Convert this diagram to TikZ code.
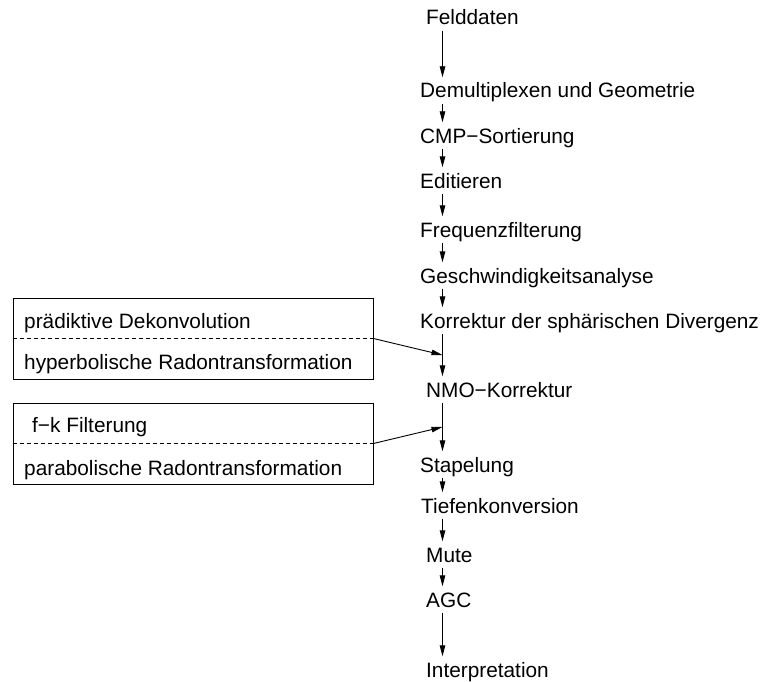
\documentclass[tikz,border=0pt]{standalone}
\usepackage{fontspec}
\setmainfont{Liberation Sans}
\usetikzlibrary{arrows.meta}

\begin{document}
\begin{tikzpicture}[x=1pt, y=-1pt,
    stage/.style={anchor=base west, inner xsep=0pt, inner ysep=5.5pt,
      text height=15pt, text depth=0pt, font=\fontsize{20.8}{25}\selectfont},
    flow/.style={line width=0.9pt, -{Stealth[length=11pt, width=5.5pt, inset=0pt]}},
    sidebox/.style={draw, line width=0.8pt, minimum width=360pt,
      minimum height=81pt, inner sep=0pt},
    split/.style={line width=0.7pt, dash pattern=on 4pt off 3pt}]
    \useasboundingbox (0,0) rectangle (760,682);
    \coordinate (ax) at (442.5,0);

    % processing chain
    \node[stage] (feld) at (426,25) {Felddaten};
    \node[stage] (demux) at (420,98) {Demultiplexen und Geometrie};
    \node[stage] (cmp) at (420,143) {CMP−Sortierung};
    \node[stage] (edit) at (420,188) {Editieren};
    \node[stage] (freq) at (420,237) {Frequenzfilterung};
    \node[stage] (velo) at (420,283) {Geschwindigkeitsanalyse};
    \node[stage] (sphdiv) at (420,328) {Korrektur der sphärischen Divergenz};
    \node[stage] (nmo) at (426,397) {NMO−Korrektur};
    \node[stage] (stack) at (420,472) {Stapelung};
    \node[stage] (depth) at (421,513) {Tiefenkonversion};
    \node[stage] (mute) at (426,562) {Mute};
    \node[stage] (agc) at (426,607) {AGC};
    \node[stage] (interp) at (426,677) {Interpretation};

    \draw[flow] (feld.south -| ax) -- (demux.north -| ax);
    \draw[flow] (demux.south -| ax) -- (cmp.north -| ax);
    \draw[flow] (cmp.south -| ax) -- (edit.north -| ax);
    \draw[flow] (edit.south -| ax) -- (freq.north -| ax);
    \draw[flow] (freq.south -| ax) -- (velo.north -| ax);
    \draw[flow] (velo.south -| ax) -- (sphdiv.north -| ax);
    \draw[flow] (sphdiv.south -| ax) -- (nmo.north -| ax);
    \draw[flow] (nmo.south -| ax) -- (stack.north -| ax);
    \draw[flow] (stack.south -| ax) -- (depth.north -| ax);
    \draw[flow] (depth.south -| ax) -- (mute.north -| ax);
    \draw[flow] (mute.south -| ax) -- (agc.north -| ax);
    \draw[flow] (agc.south -| ax) -- (interp.north -| ax);

    % optional steps before NMO
    \node[sidebox] (preNMO) at (193,338.5) {};
    \draw[split] (preNMO.west) -- (preNMO.east);
    \node[stage] (deconv) at (24,328) {prädiktive Dekonvolution};
    \node[stage] (hypradon) at (24,369) {hyperbolische Radontransformation};
    \coordinate (inNMO) at (442.5,355);
    \draw[flow] (preNMO.east) -- (inNMO);

    % optional steps before stacking
    \node[sidebox] (preStack) at (193,443.5) {};
    \draw[split] (preStack.west) -- (preStack.east);
    \node[stage] (fk) at (32,432) {f−k Filterung};
    \node[stage] (pararadon) at (24,475) {parabolische Radontransformation};
    \coordinate (inStack) at (442.5,427);
    \draw[flow] (preStack.east) -- (inStack);
\end{tikzpicture}
\end{document}
